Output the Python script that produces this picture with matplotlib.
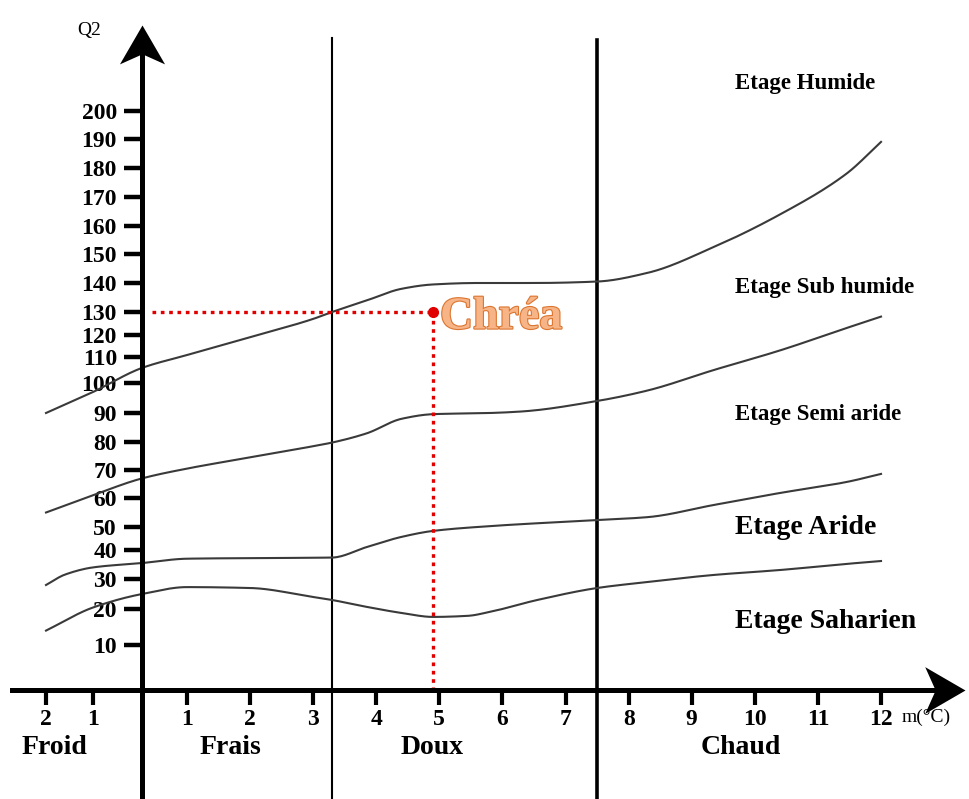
import numpy as np
import matplotlib
matplotlib.use("Agg")
import matplotlib.pyplot as plt
import matplotlib.patheffects as pe

plt.rcParams['font.family'] = ['Liberation Serif', 'DejaVu Serif']

m_ticks = [-2, -1, 1, 2, 3, 4, 5, 6, 7, 8, 9, 10, 11, 12]
m_labels = ['2', '1', '1', '2', '3', '4', '5', '6', '7', '8', '9', '10', '11', '12']
q_ticks = [10, 20, 30, 40, 50, 60, 70, 80, 90, 100,
           110, 120, 130, 140, 150, 160, 170, 180, 190, 200]

zones = ['Froid', 'Frais', 'Doux', 'Chaud']
etages = ['Etage Humide', 'Etage Sub humide', 'Etage Semi aride',
          'Etage Aride', 'Etage Saharien']
bornes_m = [3.3, 7.5]

# limites entre etages
lim1_m = [-2, -1, 0, 1, 2, 3, 3.3, 3.85, 4.4, 4.9, 5.6, 6.5, 7.5, 8.3, 9.35, 10.4, 11.45, 12]
lim1_q = [90, 97, 105.8, 110.9, 119, 127, 130, 134, 138, 139.5, 140, 140, 140.5, 143.5, 152.5, 164, 178, 189]

lim2_m = [-2, -1, 0, 1, 2, 3, 3.3, 3.85, 4.4, 4.9, 5.8, 6.3, 7.5, 8.3, 9.35, 10.4, 11.45, 12]
lim2_q = [55, 61, 67, 70.5, 74.5, 78.5, 79.8, 83, 88, 89.6, 90, 90.5, 94, 97.5, 105, 113, 123, 128]

lim3_m = [-2, -1.6, -1, 0, 1, 2, 3.3, 3.85, 4.4, 4.9, 5.8, 7.5, 8.3, 9.35, 10.4, 11.45, 12]
lim3_q = [28, 31.5, 34, 35.5, 37, 37.2, 37.4, 41.3, 45.7, 48.3, 50.3, 52.4, 53.4, 57.6, 61.8, 65.7, 68.6]

lim4_m = [-2, -1, 0, 1, 2, 3, 3.3, 3.85, 4.4, 4.9, 5.45, 5.8, 6.55, 7.5, 8.3, 9.35, 10.4, 11.45, 12]
lim4_q = [14, 20.5, 25, 27.3, 27, 24, 23, 20.7, 18.9, 17.8, 18.1, 19.2, 23, 27, 29, 31.4, 33.1, 35.2, 36.2]

station = 'Chréa'
station_m = 4.9
station_q = 130

## ECHELLES (axes traces a la main -> graduations irregulieres)
W, H = 969, 799
mk = np.array([-4, -2, -1, 0, 1, 15])
pkx = np.array([-48, 46, 93, 142, 187, 1070.3])
qk = np.array([-60] + q_ticks + [300])
pky = np.array([855, 645, 609, 579, 550, 527, 498, 470, 442, 413, 383,
                357, 335, 312, 283, 254, 226, 197, 168, 139, 111, -174])


def px2m(p):
    return np.interp(p, pkx, mk)


def px2q(p):
    return np.interp(p, pky[::-1], qk[::-1])


def fwd_x(m):
    return np.interp(m, mk, pkx)


def fwd_y(q):
    return -np.interp(q, qk, pky)


def inv_y(v):
    return px2q(-np.asarray(v))


def pchip(x, y, xn):
    x = np.asarray(x, float)
    y = np.asarray(y, float)
    h = np.diff(x)
    d = np.diff(y) / h
    n = len(x)
    t = np.zeros(n)
    t[0], t[-1] = d[0], d[-1]
    for k in range(1, n - 1):
        if d[k - 1] * d[k] > 0:
            w1 = 2 * h[k] + h[k - 1]
            w2 = h[k] + 2 * h[k - 1]
            t[k] = (w1 + w2) / (w1 / d[k - 1] + w2 / d[k])
    i = np.clip(np.searchsorted(x, xn) - 1, 0, n - 2)
    s = (xn - x[i]) / h[i]
    h00 = 2 * s ** 3 - 3 * s ** 2 + 1
    h10 = s ** 3 - 2 * s ** 2 + s
    h01 = -2 * s ** 3 + 3 * s ** 2
    h11 = s ** 3 - s ** 2
    return h00 * y[i] + h10 * h[i] * t[i] + h01 * y[i + 1] + h11 * h[i] * t[i + 1]


def courbe(lm, lq):
    # lissage fait dans l'espace de la figure puis ramene en (m, Q2)
    X = fwd_x(np.asarray(lm))
    Y = -fwd_y(np.asarray(lq))
    Xn = np.linspace(X[0], X[-1], 400)
    Yn = pchip(X, Y, Xn)
    return px2m(Xn), px2q(Yn)


fig = plt.figure(figsize=(W / 100, H / 100), dpi=100)
ax = fig.add_axes([0, 0, 1, 1])
ax.set_xscale('function', functions=(fwd_x, px2m))
ax.set_yscale('function', functions=(fwd_y, inv_y))
ax.set_xlim(px2m(0), px2m(W))
ax.set_ylim(px2q(H), px2q(0))
ax.patch.set_facecolor('white')

q_axe = px2q(690)

# axes
for s in ['top', 'right']:
    ax.spines[s].set_visible(False)
ax.spines['left'].set_position(('data', 0))
ax.spines['bottom'].set_position(('data', q_axe))
ax.spines['left'].set_linewidth(3.6)
ax.spines['bottom'].set_linewidth(3.6)
ax.spines['left'].set_bounds(px2q(H), px2q(50))
ax.spines['bottom'].set_bounds(px2m(12), px2m(935))

fleche_haut = [(0, 0), (0.58, -1), (0, -0.74), (-0.58, -1), (0, 0)]
fleche_droite = [(0, 0), (-1, 0.58), (-0.74, 0), (-1, -0.58), (0, 0)]
ax.plot(0, px2q(25), marker=fleche_haut, ms=56, color='k', mew=0, clip_on=False)
ax.plot(px2m(965), q_axe, marker=fleche_droite, ms=58, color='k', mew=0, clip_on=False)

ax.set_yticks(q_ticks, [str(q) for q in q_ticks], fontweight='bold', fontsize=17)
ax.set_xticks(m_ticks, m_labels, fontweight='bold', fontsize=17)
ax.minorticks_off()
ax.tick_params(axis='y', direction='out', length=13, width=3.2, pad=5)
ax.tick_params(axis='x', direction='out', length=11, width=3.0, pad=3)

# limites thermiques
ax.axvline(bornes_m[0], ymin=0, ymax=1 - 38 / H, color='k', lw=1.5)
ax.axvline(bornes_m[1], ymin=0, ymax=1 - 40 / H, color='k', lw=2.6)

# courbes
for lm, lq in [(lim1_m, lim1_q), (lim2_m, lim2_q), (lim3_m, lim3_q), (lim4_m, lim4_q)]:
    cm, cq = courbe(lm, lq)
    ax.plot(cm, cq, color='#3a3a3a', lw=1.5)

# station
rouge = '#e00000'
ax.plot([px2m(152), station_m], [station_q, station_q], color=rouge, lw=2.4,
        ls=(0, (1.1, 1.4)))
ax.plot([station_m, station_m], [station_q, q_axe], color=rouge, lw=2.4,
        ls=(0, (1.1, 1.4)))
ax.plot(station_m, station_q, 'o', color=rouge, ms=7)
ax.annotate(station, (station_m, station_q), xytext=(5, -4), textcoords='offset points',
            ha='left', va='center', fontsize=33, fontweight='bold', color='#f6b487',
            path_effects=[pe.withStroke(linewidth=1.6, foreground='#dc7530')])

# textes
fig.text(89 / W, 1 - 30 / H, 'Q2', ha='center', va='center', fontsize=14)
fig.text(902 / W, 1 - 717 / H, 'm(°C)', ha='left', va='center', fontsize=14)

zone_x = [54, 230, 432, 741]
for z, x in zip(zones, zone_x):
    fig.text(x / W, 1 - 748 / H, z, ha='center', va='center', fontsize=20, fontweight='bold')

etage_y = [83, 287, 415, 528, 621]
etage_fs = [16.5, 16.5, 16.5, 20, 20]
for e, y, fs in zip(etages, etage_y, etage_fs):
    fig.text(735 / W, 1 - y / H, e, ha='left', va='center', fontsize=fs, fontweight='bold')

fig.savefig('out.png', dpi=100)
